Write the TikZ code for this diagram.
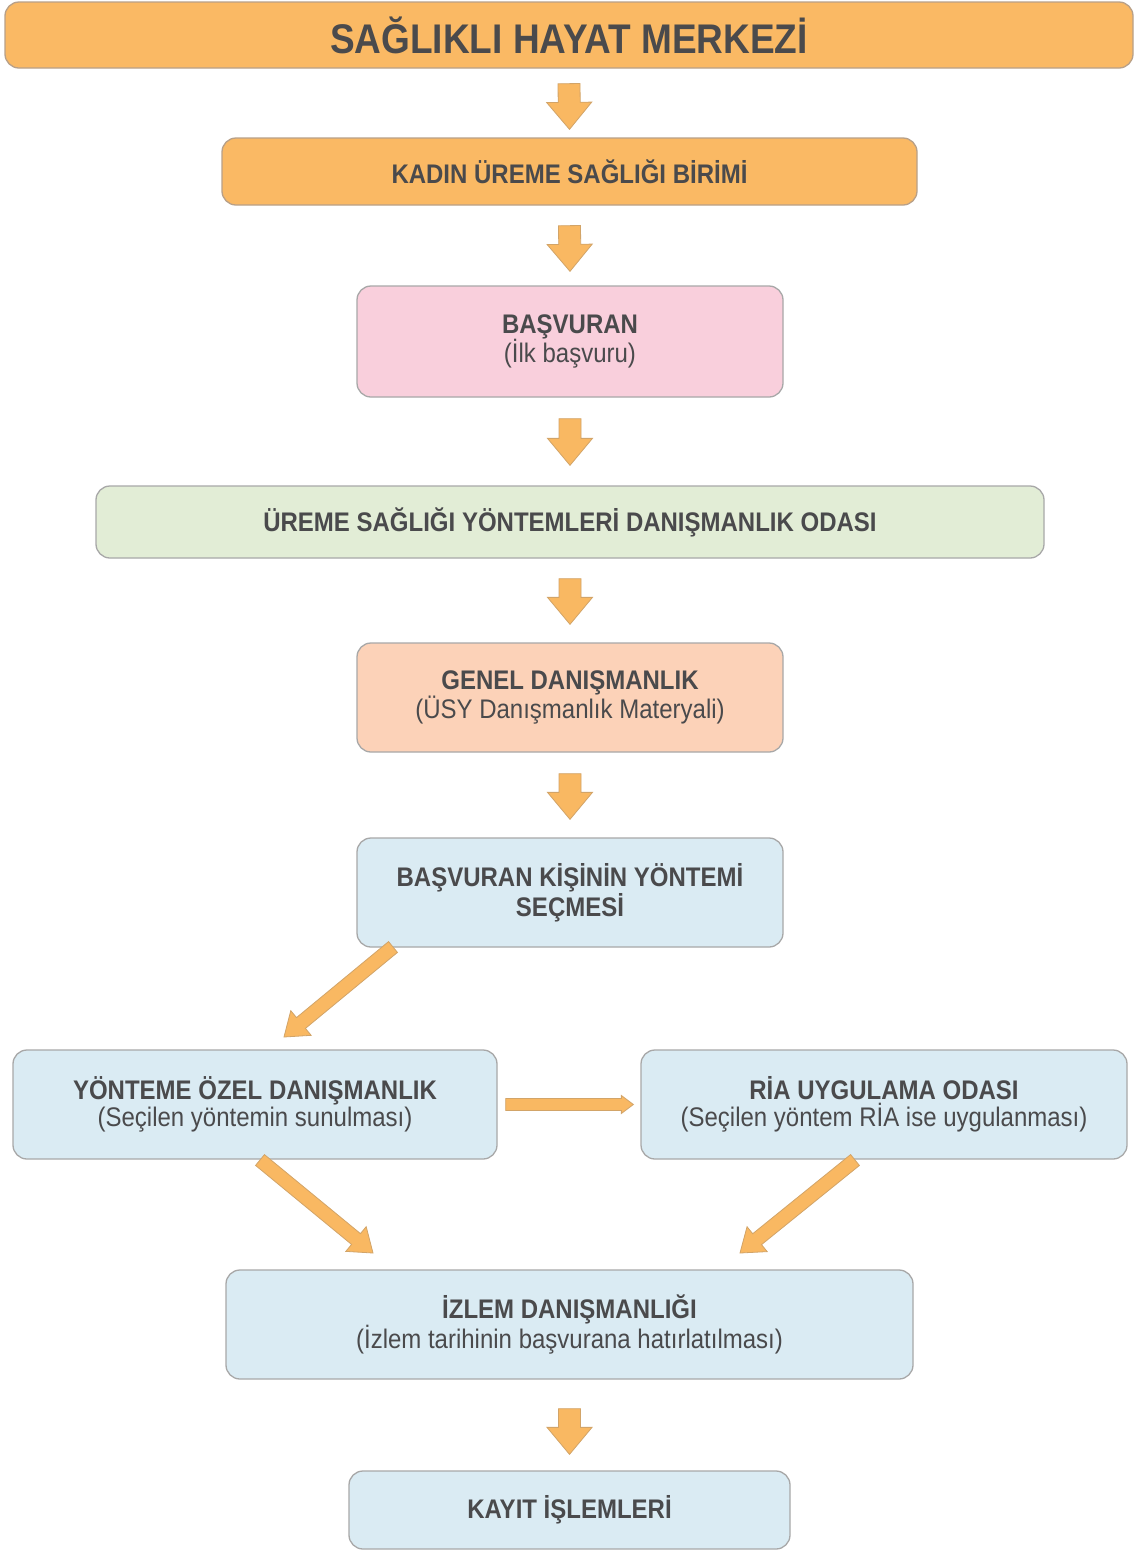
\documentclass[tikz,border=0pt]{standalone}
\usepackage{fontspec}
\setmainfont{Liberation Sans}
\usetikzlibrary{calc}

\definecolor{textgray}{HTML}{4A4A4C}
\definecolor{boxline}{HTML}{A8A8A8}
\definecolor{orangeline}{HTML}{B8A088}
\definecolor{orangefill}{HTML}{FAB964}
\definecolor{pinkfill}{HTML}{F9CFDC}
\definecolor{greenfill}{HTML}{E2EDD6}
\definecolor{peachfill}{HTML}{FCD2B8}
\definecolor{bluefill}{HTML}{DAEBF3}
\definecolor{arrowfill}{HTML}{F9B862}
\definecolor{arrowline}{HTML}{D2A468}

% one line of box text, letters set slightly tall
\newcommand\tx[1]{\scalebox{1}[1.12]{#1}}

\tikzset{
  box/.style={draw=boxline, line width=1.3pt, rounded corners=14pt, inner sep=0pt,
    align=center, text=textgray, font=\fontsize{24}{27}\selectfont},
  boldbox/.style={box, font=\fontsize{24}{27}\selectfont\bfseries},
  fatarrow/.style={fill=arrowfill, draw=arrowline, line width=0.8pt, line join=miter},
}

% block arrow from #2 to #3: half shaft #4, half head #5, head length #6
\newcommand\blockarrow[6][]{%
  \coordinate (headbase) at ($(#3)!#6!(#2)$);
  \draw[fatarrow,#1] ($(#2)!#4!90:(#3)$) -- ($(headbase)!#4!90:(#3)$)
    -- ($(headbase)!#5!90:(#3)$) -- (#3) -- ($(headbase)!#5!-90:(#3)$)
    -- ($(headbase)!#4!-90:(#3)$) -- ($(#2)!#4!-90:(#3)$) -- cycle;
}

\begin{document}
\begin{tikzpicture}[x=1pt, y=-1pt]
\fill[white] (0,0) rectangle (1137,1551);
\useasboundingbox (0,0) rectangle (1137,1551);

% boxes
\node[box, fill=orangefill, draw=orangeline, minimum width=1128pt, minimum height=66pt,
  font=\fontsize{37}{40}\selectfont\bfseries] (title) at (569,35) {\tx{SAĞLIKLI HAYAT MERKEZİ}};
\node[boldbox, fill=orangefill, draw=orangeline, minimum width=695pt, minimum height=67pt]
  (kadin) at (569.5,171.5) {\tx{KADIN ÜREME SAĞLIĞI BİRİMİ}};
\node[box, fill=pinkfill, minimum width=426pt, minimum height=111pt] (basvuran) at (570,341.5)
  {\tx{\bfseries BAŞVURAN}\\\tx{(İlk başvuru)}};
\node[boldbox, fill=greenfill, minimum width=948pt, minimum height=72pt] (ureme) at (570,522)
  {\tx{ÜREME SAĞLIĞI YÖNTEMLERİ DANIŞMANLIK ODASI}};
\node[box, fill=peachfill, minimum width=426pt, minimum height=109pt] (genel) at (570,697.5)
  {\tx{\bfseries GENEL DANIŞMANLIK}\\\tx{(ÜSY Danışmanlık Materyali)}};
\node[boldbox, fill=bluefill, minimum width=426pt, minimum height=109pt] (secme) at (570,892.5)
  {\tx{BAŞVURAN KİŞİNİN YÖNTEMİ}\\\tx{SEÇMESİ}};
\node[box, fill=bluefill, minimum width=484pt, minimum height=109pt] (ozel) at (255,1104.5)
  {\tx{\bfseries YÖNTEME ÖZEL DANIŞMANLIK}\\\tx{(Seçilen yöntemin sunulması)}};
\node[box, fill=bluefill, minimum width=486pt, minimum height=109pt] (ria) at (884,1104.5)
  {\tx{\bfseries RİA UYGULAMA ODASI}\\\tx{(Seçilen yöntem RİA ise uygulanması)}};
\node[box, fill=bluefill, minimum width=687pt, minimum height=109pt] (izlem) at (569.5,1324.5)
  {\tx{\bfseries İZLEM DANIŞMANLIĞI}\\\tx{(İzlem tarihinin başvurana hatırlatılması)}};
\node[boldbox, fill=bluefill, minimum width=441pt, minimum height=78pt] (kayit) at (569.5,1510)
  {\tx{KAYIT İŞLEMLERİ}};

% arrow end points
\coordinate (a1s) at ($(title.south)+(0,15)$);
\coordinate (a1e) at ($(kadin.north)+(0,-8)$);
\coordinate (a2s) at ($(kadin.south)+(0,20)$);
\coordinate (a2e) at ($(basvuran.north)+(0,-14)$);
\coordinate (a3s) at ($(basvuran.south)+(0,21)$);
\coordinate (a3e) at ($(ureme.north)+(0,-20)$);
\coordinate (a4s) at ($(ureme.south)+(0,20)$);
\coordinate (a4e) at ($(genel.north)+(0,-18)$);
\coordinate (a5s) at ($(genel.south)+(0,21)$);
\coordinate (a5e) at ($(secme.north)+(0,-18)$);
\coordinate (a6s) at ($(izlem.south)+(0,29)$);
\coordinate (a6e) at ($(kayit.north)+(0,-16)$);
\coordinate (d1s) at (393,947);
\coordinate (d1e) at (284,1037);
\coordinate (hs) at ($(ozel.east)+(8,0)$);
\coordinate (he) at ($(ria.west)+(-7,0)$);
\coordinate (d2s) at (260,1160);
\coordinate (d2e) at (373,1253);
\coordinate (d3s) at (855,1160);
\coordinate (d3e) at (740,1253);

% straight-down arrows
\blockarrow{a1s}{a1e}{11pt}{22.5pt}{27pt}
\blockarrow{a2s}{a2e}{11pt}{22.5pt}{27pt}
\blockarrow{a3s}{a3e}{11pt}{22.5pt}{27pt}
\blockarrow{a4s}{a4e}{11pt}{22.5pt}{27pt}
\blockarrow{a5s}{a5e}{11pt}{22.5pt}{27pt}
\blockarrow{a6s}{a6e}{11pt}{22.5pt}{27pt}

% slanted and side arrows
\blockarrow{d1s}{d1e}{7pt}{16pt}{22pt}
\blockarrow{hs}{he}{6pt}{9pt}{12pt}
\blockarrow{d2s}{d2e}{7pt}{16pt}{22pt}
\blockarrow{d3s}{d3e}{7pt}{16pt}{22pt}
\end{tikzpicture}
\end{document}
